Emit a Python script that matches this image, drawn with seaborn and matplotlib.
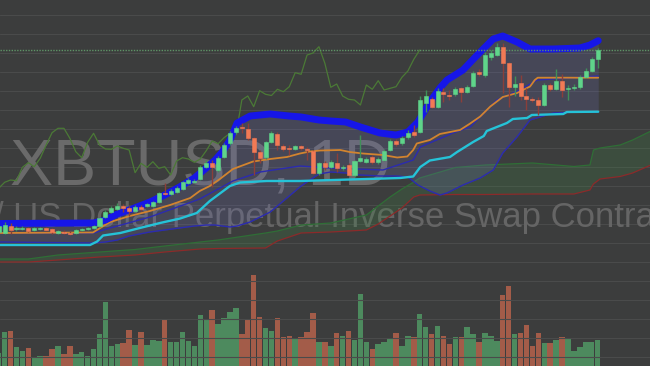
import numpy as np
import matplotlib
matplotlib.use("Agg")
import matplotlib.pyplot as plt
import seaborn as sns

# ── DATA ──────────────────────────────────────────────────────────────────────
# XBTUSD daily candles, price in chart units
opens = [134, 133.3, 140, 136.7, 137.5, 137.7, 135.7, 137, 138, 136.7,
         133.3, 134.5, 133.5, 132.7, 136, 137, 137.7, 140, 148.7, 154.3,
         156.7, 160, 157.7, 155, 159.3, 160, 160, 164.3, 173.3, 172,
         174.3, 176.7, 182.7, 184.3, 186.7, 199.3, 203.3, 196, 209.3, 222.7,
         233.7, 239.3, 236.7, 227.7, 214.3, 208.7, 224.3, 232, 220.3, 217.7,
         217, 220, 217, 215.3, 192.7, 202.7, 199.3, 202.7, 197.7, 201,
         191, 205, 204.3, 209.3, 203.7, 206, 216, 225, 222.7, 228.7,
         234.3, 234.3, 263, 266.7, 259.3, 274, 271.5, 271.7, 277.7, 274.3,
         280, 294.3, 291, 309, 311, 319.3, 302.7, 278.7, 282.7, 270,
         266.7, 266, 261, 281, 276.7, 285.3, 276.7, 277.7, 278.7, 288.7,
         295, 306.7]
highs = [142, 144, 142.7, 140, 140, 139, 139, 139, 139, 138,
         136, 136, 135, 137, 138, 139, 141, 149, 156, 160,
         163, 162, 160, 161, 161, 163, 165, 174, 182.7, 177,
         180, 185, 188, 187, 201, 206, 206, 210, 223, 235,
         240, 243, 243, 229.3, 216, 225, 235, 234.3, 222, 221,
         221, 221, 219.3, 216, 204, 205, 206, 213, 201, 203,
         206, 231, 209, 211, 209, 217, 227, 227, 230, 236,
         241, 270, 276, 269, 278, 277.7, 276, 279, 279.3, 281,
         295, 297, 314, 316, 323, 323, 304, 290, 291, 278,
         269, 269, 283, 283, 297, 292, 281, 282, 291, 298,
         309, 318]
lows = [132, 132, 131.7, 135, 136, 134, 135, 136, 135, 132,
        132, 132, 131, 132, 135, 136, 137, 139, 148, 153,
        156, 154, 150, 154, 155, 159, 159, 163, 171, 171,
        173, 176, 182, 183, 186, 198, 179.3, 194, 208, 221,
        232, 233, 226, 191, 202.7, 207, 223, 216, 215, 211,
        216, 216, 206, 192, 191, 196, 198, 194, 196, 190,
        189, 204.3, 203, 202, 202, 205, 215, 220, 221, 227,
        229, 233, 254, 258, 258, 264.3, 266, 270, 264.3, 273,
        279, 290, 289, 306, 310, 273, 259.3, 270, 266, 256,
        264, 251, 260, 275, 276, 269.3, 266, 276, 277, 288,
        294, 298]
closes = [140, 141, 136, 138.3, 138.5, 135.3, 137.7, 138, 136.5, 133.7,
          134.7, 133, 132, 136, 137.3, 138, 140, 147.7, 154.3, 157.7,
          160.5, 158.3, 155, 159.3, 157, 162, 163.7, 172.7, 172, 175.3,
          177.7, 183.7, 186, 185.3, 198.7, 203.3, 199.3, 207.7, 221, 233.3,
          237.7, 237.7, 227.7, 214.3, 208.3, 223.7, 232.7, 221, 217, 216.7,
          220, 217.7, 216, 193.3, 202.7, 198.7, 204.3, 197.7, 199.3, 191,
          205, 208.3, 207, 203.7, 207, 215.3, 225, 222.3, 228.3, 232.7,
          231, 266, 270, 259.3, 275.3, 271.7, 270.5, 276.7, 274.3, 279.3,
          293.3, 291.7, 311, 313, 319.3, 302.7, 278.7, 282, 270, 266.7,
          266, 261, 281, 276.7, 285.3, 276, 277.7, 279.3, 288.7, 295,
          306.7, 316]
volume = [12.7, 34.3, 35, 18.7, 15.3, 17.7, 9.3, 10.3, 10.3, 17,
          20, 12, 20.3, 12, 14.3, 10, 16.7, 32, 64.3, 20,
          22, 22.7, 36, 21, 33.7, 21, 26, 25, 46, 24.3,
          24.3, 33.7, 25, 20, 51, 46.7, 56, 42, 47.7, 53.7,
          57.7, 32, 47, 91, 48.7, 37.7, 35, 47.7, 29.3, 30.3,
          27, 28.7, 34.3, 52.7, 24.3, 24.3, 20, 32.7, 30.3, 35,
          26, 72, 24, 17, 22, 24, 28.3, 32.7, 20, 29.7,
          28.7, 51.7, 39.3, 32, 40, 30.3, 22.3, 28.7, 28.7, 39.3,
          31.7, 23.7, 32.7, 30.3, 25, 71, 80.3, 32, 32.7, 40.7,
          20.3, 32.7, 22.7, 22.7, 26, 28.7, 27.7, 15.3, 18.7, 23.7,
          24, 25.7]

# Bollinger bands (upper thick, lower thin) at candle index vertices
bb_idx   = [0, 16, 18, 20, 22, 25.5, 28, 30.5, 33, 35, 36.5, 37.7, 39, 40.2,
            42.4, 45.8, 49, 51, 54, 56, 58.5, 61, 64.3, 67, 69, 70.7, 72.7,
            74.4, 75.6, 78.3, 81.2, 83.4, 85, 87.4, 89.6, 93.5, 98, 99.7, 101.1]
bb_upper = [142.5, 143, 146, 152, 156, 164, 171, 179, 188, 198, 206, 214, 226,
            243, 250, 252, 250, 249, 246, 245, 244, 239, 233, 231, 234, 244,
            264, 278, 286, 296, 314, 327, 330, 324, 317, 317, 318, 321, 325.3]
bb_lower = [124, 123, 124, 126, 130, 134, 136, 138, 140, 141, 141, 140, 139,
            140, 144, 154, 170, 180, 192, 194, 193, 191, 190, 190, 189, 181,
            175, 171, 173, 181, 188, 196, 213, 229, 246, 253, 254, 254, 254]
basis_idx = [0, 16, 18.8, 25.5, 33.9, 39.5, 44.1, 50.8, 55.9, 64.8, 69.9,
             71.1, 76.6, 79.5, 84, 87.9, 90.8, 101.1]
basis     = [133, 133, 138, 149, 167, 185, 194, 200, 198, 196, 206, 219, 233,
             239, 266, 276, 286, 290]

# conversion line (orange) and base line (cyan)
conv_idx = [0.2, 15.9, 17.1, 18.8, 22.1, 25.5, 28.9, 32.3, 33.9, 35.6, 37.3,
            39.5, 42.9, 45.8, 48.6, 50.8, 52.5, 54.2, 57.6, 59.2, 61.4, 64.8,
            67.2, 68.9, 69.9, 70.5, 72.7, 74.4, 77.8, 79.5, 81.2, 82.9, 85.0,
            87.4, 89.6, 90.4, 90.9, 101.1]
conv     = [133, 133.5, 138, 144, 150, 155, 161, 168, 175, 180, 187, 197, 204.5,
            207, 209, 212.5, 214.5, 215.5, 216, 214, 212.5, 211, 208.5, 209.5,
            216, 222.5, 226, 232, 236, 242.5, 249.5, 259.5, 269, 273, 279.5,
            286, 288.3, 288.3]
base_idx = [0.2, 15.4, 16.6, 17.6, 20.5, 23.8, 27.2, 30.6, 33.4, 35.6, 37.3,
            39.0, 40.7, 45.2, 50.8, 56.4, 62.1, 67.7, 69.9, 71.1, 72.7, 76.1,
            77.3, 80.0, 81.8, 82.3, 85.7, 86.7, 89.1, 89.9, 95.2, 95.8, 101.1]
base     = [121, 121, 124.5, 130.5, 133, 138, 143, 147.5, 153, 165, 172.5,
            180, 183.5, 185, 185, 186, 187, 188, 189.5, 199, 205.5, 209, 214,
            224, 230, 235, 243, 247, 248, 251, 252, 254, 254.3]

# cloud (leading spans A / B), projected past the last candle
cloud_idx = [0, 5, 10, 17, 23, 28, 34, 37, 45, 47, 51, 56, 62, 64, 66, 68, 70,
             71, 77, 82, 90, 97, 99.7, 100.3, 101.4, 104.8, 106.9, 110]
span_a = [107, 107, 111, 114, 116.5, 120, 124, 126, 133, 135, 141, 143, 151,
          160, 169, 177, 184, 188, 198.5, 201, 203, 199.5, 201, 216, 218, 221,
          226, 235]
span_b = [104, 104, 106, 109, 111, 114, 117, 117.5, 118, 125, 133, 134, 136,
          142, 150, 158, 169, 171, 171.5, 171.5, 172, 172, 176, 182, 187, 189.5,
          193, 201]

LAG = 30                                   # lagging span shift (candles)
date_ticks = [2, 11, 20, 33, 42, 51, 64, 73, 82, 92, 101]

# ── STYLE ─────────────────────────────────────────────────────────────────────
BG = "#3c3d3d"
sns.set_theme(style="dark", rc={"axes.facecolor": BG, "figure.facecolor": BG,
                                "grid.color": "#4a4b4b", "grid.linewidth": 0.8})
plt.rcParams["font.family"] = ["Liberation Sans", "DejaVu Sans"]

idx = np.arange(len(closes))
o, h, l, c = map(np.array, (opens, highs, lows, closes))
up = c >= o

fig = plt.figure(figsize=(6.5, 3.66), dpi=100)
vax = fig.add_axes([0, 0, 1, 1])
ax = vax.twinx()

# ── VOLUME ────────────────────────────────────────────────────────────────────
vol_colors = np.where(up, "#4d8a5e", "#a35c49")
vax.bar(idx, volume, width=0.92, color=vol_colors, linewidth=0, zorder=2)
vax.set_ylim(0, 366)

# ── WATERMARK ─────────────────────────────────────────────────────────────────
# the reference crops the subtitle at the right edge, so it runs off on purpose
ax.text(10 / 650, 1 - 185 / 366, "XBTUSD, 1D", transform=ax.transAxes,
        fontsize=46.5, color="#6a6a6a", va="baseline", zorder=0.6)
ax.text(-6 / 650, 1 - 227 / 366, "/ US Dollar Perpetual Inverse Swap Contract",
        transform=ax.transAxes, fontsize=25, color="#656565", va="baseline",
        zorder=0.6)

# ── CLOUD ─────────────────────────────────────────────────────────────────────
ax.fill_between(cloud_idx, span_a, span_b, color="#3f8a45", alpha=0.22,
                linewidth=0, zorder=1)
sns.lineplot(x=cloud_idx, y=span_a, ax=ax, color="#2f6e36", linewidth=0.9,
             zorder=1.2)
sns.lineplot(x=cloud_idx, y=span_b, ax=ax, color="#8c2a2a", linewidth=0.9,
             zorder=1.2)

# ── BOLLINGER ─────────────────────────────────────────────────────────────────
ax.fill_between(bb_idx, bb_upper, bb_lower, color="#7272c4", alpha=0.2,
                linewidth=0, zorder=1.3)
sns.lineplot(x=bb_idx, y=bb_lower, ax=ax, color="#2b2bb0", linewidth=1.0,
             zorder=1.5)
sns.lineplot(x=basis_idx, y=basis, ax=ax, color="#2b2bb0", linewidth=1.0,
             zorder=1.5)

# ── LAGGING SPAN, BASE / CONVERSION ──────────────────────────────────────────
sns.lineplot(x=idx[LAG - 1:] - LAG, y=c[LAG - 1:], ax=ax, color="#4b7a36",
             linewidth=0.9, zorder=1.6)
sns.lineplot(x=base_idx, y=base, ax=ax, color="#25c3d8", linewidth=1.7,
             zorder=1.8)
sns.lineplot(x=conv_idx, y=conv, ax=ax, color="#d2842f", linewidth=1.3,
             zorder=1.9)
sns.lineplot(x=bb_idx, y=bb_upper, ax=ax, color="#1616e8", linewidth=5,
             zorder=2.0)

# last price line
ax.axhline(c[-1], color="#5e9466", linewidth=1, linestyle=(0, (1, 1)),
           zorder=2.1)

# ── CANDLES ───────────────────────────────────────────────────────────────────
wick_colors = np.where(up, "#3f8f58", "#8a3f3a")
body_colors = np.where(up, "#5fd48a", "#f27a55")
ax.vlines(idx, l, h, colors=wick_colors, linewidth=1, zorder=3)
ax.bar(idx, c - o, bottom=o, width=0.68, color=body_colors,
       edgecolor=body_colors, linewidth=0.4, zorder=3.5)

# ── AXES ──────────────────────────────────────────────────────────────────────
ax.set_xlim(0.22, 109.83)
ax.set_ylim(0, 366)
ax.set_xticks(date_ticks)
ax.set_yticks(np.arange(9.4, 360, 18.98))
ax.grid(True, zorder=0)
ax.set_axisbelow(True)
for a in (ax, vax):
    a.tick_params(length=0, labelleft=False, labelright=False,
                  labelbottom=False)
    a.set_xlabel("")
    a.set_ylabel("")
    for s in a.spines.values():
        s.set_visible(False)
vax.set_yticks([])
vax.set_xticks([])
if ax.get_legend():
    ax.get_legend().remove()

fig.savefig("out.png", dpi=100, facecolor=BG)
